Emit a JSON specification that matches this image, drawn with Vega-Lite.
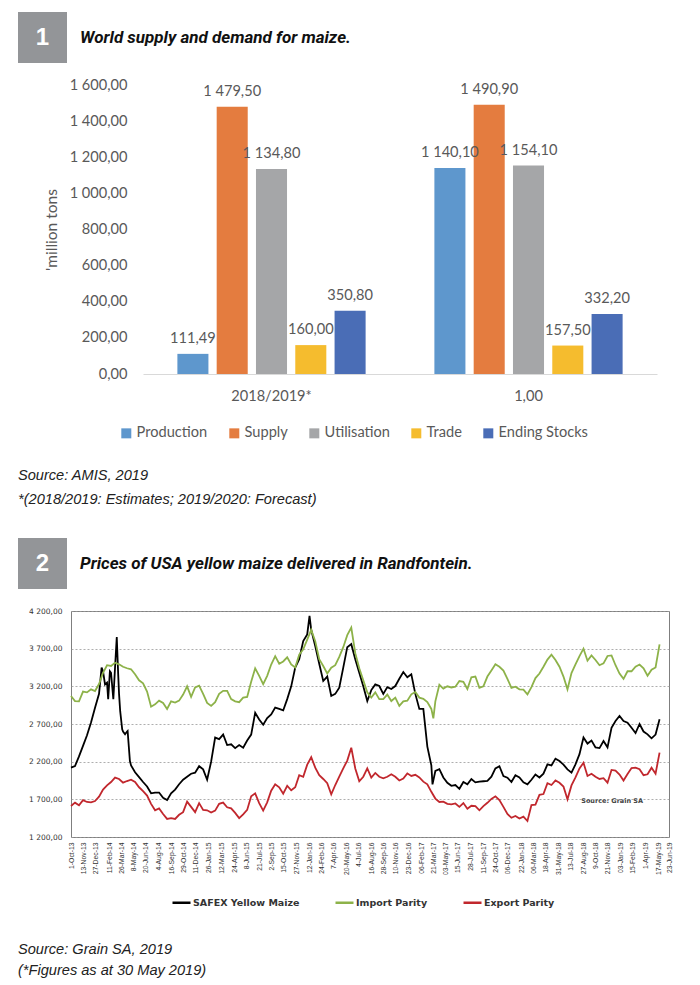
{
  "$schema": "https://vega.github.io/schema/vega-lite/v6.json",
  "background": "white",
  "padding": {"left": 18, "top": 12, "right": 0, "bottom": 0},
  "config": {
    "locale": {"number": {"decimal": ",", "thousands": " ", "grouping": [3], "currency": ["", ""]}},
    "view": {"stroke": null}
  },
  "resolve": {"scale": {"color": "independent"}, "legend": {"color": "independent"}},
  "spacing": 0,
  "vconcat": [
    {
      "width": 49, "height": 51,
      "view": {"fill": "#939598", "stroke": null},
      "title": {"text": "World supply and demand for maize.", "orient": "top", "anchor": "start", "frame": "group", "baseline": "middle", "offset": 0, "dx": 62, "dy": 42.5, "font": "Roboto", "fontSize": 17, "fontStyle": "italic", "fontWeight": "bold", "color": "#111111"},
      "data": {"values": [{"n": "1"}]},
      "mark": {"type": "text", "color": "white", "font": "Liberation Sans", "fontWeight": "bold", "fontSize": 24},
      "encoding": {"text": {"field": "n"}}
    },
    {"width": 10, "height": 14, "view": {"fill": "white", "stroke": null}, "data": {"values": []}, "mark": {"type": "point", "opacity": 0}},
    {
      "spacing": 0,
      "hconcat": [
        {"width": 25.5, "height": 1, "view": {"fill": "white", "stroke": null}, "data": {"values": []}, "mark": {"type": "point", "opacity": 0}},
        {
          "width": 514, "height": 289,
          "data": {"values": [
            {"season": "2018/2019*", "category": "Production", "million_tons": 111.49},
            {"season": "2018/2019*", "category": "Supply", "million_tons": 1479.50},
            {"season": "2018/2019*", "category": "Utilisation", "million_tons": 1134.80},
            {"season": "2018/2019*", "category": "Trade", "million_tons": 160.00},
            {"season": "2018/2019*", "category": "Ending Stocks", "million_tons": 350.80},
            {"season": "1,00", "category": "Production", "million_tons": 1140.10},
            {"season": "1,00", "category": "Supply", "million_tons": 1490.90},
            {"season": "1,00", "category": "Utilisation", "million_tons": 1154.10},
            {"season": "1,00", "category": "Trade", "million_tons": 157.50},
            {"season": "1,00", "category": "Ending Stocks", "million_tons": 332.20}
          ]},
          "encoding": {
            "x": {"field": "season", "type": "nominal", "sort": ["2018/2019*", "1,00"],
              "scale": {"paddingInner": 0, "paddingOuter": 0},
              "axis": {"title": null, "labelAngle": 0, "domainColor": "#d9d9d9", "domainWidth": 1, "ticks": false, "labelPadding": 14, "labelFont": "Lato", "labelFontSize": 14.6, "labelColor": "#595959"}},
            "xOffset": {"field": "category", "type": "nominal", "sort": ["Production", "Supply", "Utilisation", "Trade", "Ending Stocks"],
              "scale": {"paddingInner": 0.21, "paddingOuter": 0.875}},
            "y": {"field": "million_tons", "type": "quantitative",
              "scale": {"domain": [0, 1600], "nice": false},
              "axis": {"values": [0, 200, 400, 600, 800, 1000, 1200, 1400, 1600], "tickCount": 20, "format": ",.2f", "title": "'million tons", "grid": false, "domain": false, "ticks": false, "labelPadding": 16, "labelFont": "Lato", "labelFontSize": 14.6, "labelColor": "#595959", "titleFont": "Lato", "titleFontSize": 15.5, "titleFontWeight": "normal", "titleColor": "#595959", "titlePadding": 10}}
          },
          "layer": [
            {
              "mark": {"type": "bar"},
              "encoding": {
                "color": {"field": "category", "type": "nominal",
                  "scale": {"domain": ["Production", "Supply", "Utilisation", "Trade", "Ending Stocks"], "range": ["#5e97cd", "#e47c3f", "#a5a6a8", "#f5bc2e", "#4a6db6"]},
                  "legend": {"orient": "none", "legendX": 101, "legendY": 341, "direction": "horizontal", "title": null, "symbolType": "square", "symbolSize": 100, "symbolStrokeWidth": 0, "symbolOpacity": 1, "labelFont": "Lato", "labelFontSize": 14.6, "labelColor": "#595959", "columnPadding": 19, "labelOffset": 3}}
              }
            },
            {
              "mark": {"type": "text", "baseline": "alphabetic", "dy": -11, "font": "Lato", "fontSize": 14.6, "color": "#595959"},
              "encoding": {"text": {"field": "million_tons", "type": "quantitative", "format": ",.2f"}}
            }
          ]
        }
      ]
    },
    {"width": 10, "height": 27, "view": {"fill": "white", "stroke": null}, "data": {"values": []}, "mark": {"type": "point", "opacity": 0}},
    {
      "width": 400, "height": 1,
      "view": {"fill": "white", "stroke": null},
      "data": {"values": []}, "mark": {"type": "point", "opacity": 0},
      "title": {"text": ["Source: AMIS, 2019", "*(2018/2019: Estimates; 2019/2020: Forecast)"], "orient": "bottom", "anchor": "start", "frame": "group", "baseline": "top", "offset": 0, "lineHeight": 24, "font": "Liberation Sans", "fontSize": 14.6, "fontStyle": "italic", "fontWeight": "normal", "color": "#222222"}
    },
    {"width": 10, "height": 31, "view": {"fill": "white", "stroke": null}, "data": {"values": []}, "mark": {"type": "point", "opacity": 0}},
    {
      "width": 49, "height": 51,
      "view": {"fill": "#939598", "stroke": null},
      "title": {"text": "Prices of USA yellow maize delivered in Randfontein.", "orient": "top", "anchor": "start", "frame": "group", "baseline": "middle", "offset": 0, "dx": 62, "dy": 42.5, "font": "Roboto", "fontSize": 17, "fontStyle": "italic", "fontWeight": "bold", "color": "#111111"},
      "data": {"values": [{"n": "2"}]},
      "mark": {"type": "text", "color": "white", "font": "Liberation Sans", "fontWeight": "bold", "fontSize": 24},
      "encoding": {"text": {"field": "n"}}
    },
    {"width": 10, "height": 17, "view": {"fill": "white", "stroke": null}, "data": {"values": []}, "mark": {"type": "point", "opacity": 0}},
    {
      "spacing": 0,
      "hconcat": [
        {"width": 9.6, "height": 1, "view": {"fill": "white", "stroke": null}, "data": {"values": []}, "mark": {"type": "point", "opacity": 0}},
        {
          "width": 598, "height": 226,
          "view": {"stroke": "#7f7f7f", "strokeWidth": 1},
          "layer": [
            {
              "data": {"values": [
{"date":"2013-10-01","SAFEX Yellow Maize":2120,"Import Parity":3072,"Export Parity":1611},
{"date":"2013-10-15","SAFEX Yellow Maize":2142,"Import Parity":3005,"Export Parity":1656},
{"date":"2013-10-29","SAFEX Yellow Maize":2270,"Import Parity":3000,"Export Parity":1620},
{"date":"2013-11-12","SAFEX Yellow Maize":2410,"Import Parity":3130,"Export Parity":1690},
{"date":"2013-11-26","SAFEX Yellow Maize":2550,"Import Parity":3120,"Export Parity":1665},
{"date":"2013-12-10","SAFEX Yellow Maize":2720,"Import Parity":3160,"Export Parity":1660},
{"date":"2013-12-24","SAFEX Yellow Maize":2917,"Import Parity":3138,"Export Parity":1678},
{"date":"2014-01-07","SAFEX Yellow Maize":3100,"Import Parity":3230,"Export Parity":1735},
{"date":"2014-01-21","SAFEX Yellow Maize":3400,"Import Parity":3380,"Export Parity":1830},
{"date":"2014-02-04","SAFEX Yellow Maize":3250,"Import Parity":3480,"Export Parity":1885},
{"date":"2014-02-18","SAFEX Yellow Maize":3380,"Import Parity":3470,"Export Parity":1930},
{"date":"2014-03-04","SAFEX Yellow Maize":3450,"Import Parity":3514,"Export Parity":1988},
{"date":"2014-03-18","SAFEX Yellow Maize":3100,"Import Parity":3492,"Export Parity":1970},
{"date":"2014-04-01","SAFEX Yellow Maize":2600,"Import Parity":3460,"Export Parity":1921},
{"date":"2014-04-15","SAFEX Yellow Maize":2600,"Import Parity":3440,"Export Parity":1943},
{"date":"2014-04-29","SAFEX Yellow Maize":2150,"Import Parity":3426,"Export Parity":1960},
{"date":"2014-05-13","SAFEX Yellow Maize":2060,"Import Parity":3360,"Export Parity":1930},
{"date":"2014-05-27","SAFEX Yellow Maize":1995,"Import Parity":3280,"Export Parity":1860},
{"date":"2014-06-10","SAFEX Yellow Maize":1930,"Import Parity":3240,"Export Parity":1810},
{"date":"2014-06-24","SAFEX Yellow Maize":1870,"Import Parity":3130,"Export Parity":1750},
{"date":"2014-07-08","SAFEX Yellow Maize":1780,"Import Parity":2930,"Export Parity":1640},
{"date":"2014-07-22","SAFEX Yellow Maize":1790,"Import Parity":2961,"Export Parity":1555},
{"date":"2014-08-05","SAFEX Yellow Maize":1790,"Import Parity":3010,"Export Parity":1580},
{"date":"2014-08-19","SAFEX Yellow Maize":1720,"Import Parity":2980,"Export Parity":1505},
{"date":"2014-09-02","SAFEX Yellow Maize":1690,"Import Parity":2900,"Export Parity":1440},
{"date":"2014-09-16","SAFEX Yellow Maize":1780,"Import Parity":3000,"Export Parity":1450},
{"date":"2014-09-30","SAFEX Yellow Maize":1830,"Import Parity":2985,"Export Parity":1440},
{"date":"2014-10-14","SAFEX Yellow Maize":1900,"Import Parity":3010,"Export Parity":1495},
{"date":"2014-10-28","SAFEX Yellow Maize":1960,"Import Parity":3090,"Export Parity":1530},
{"date":"2014-11-11","SAFEX Yellow Maize":2000,"Import Parity":3200,"Export Parity":1670},
{"date":"2014-11-25","SAFEX Yellow Maize":2040,"Import Parity":3060,"Export Parity":1600},
{"date":"2014-12-09","SAFEX Yellow Maize":2054,"Import Parity":3185,"Export Parity":1530},
{"date":"2014-12-23","SAFEX Yellow Maize":2140,"Import Parity":3210,"Export Parity":1650},
{"date":"2015-01-06","SAFEX Yellow Maize":2098,"Import Parity":3100,"Export Parity":1560},
{"date":"2015-01-20","SAFEX Yellow Maize":1960,"Import Parity":2980,"Export Parity":1555},
{"date":"2015-02-03","SAFEX Yellow Maize":2200,"Import Parity":2940,"Export Parity":1525},
{"date":"2015-02-17","SAFEX Yellow Maize":2520,"Import Parity":2990,"Export Parity":1550},
{"date":"2015-03-03","SAFEX Yellow Maize":2500,"Import Parity":3100,"Export Parity":1640},
{"date":"2015-03-17","SAFEX Yellow Maize":2560,"Import Parity":3140,"Export Parity":1656},
{"date":"2015-03-31","SAFEX Yellow Maize":2420,"Import Parity":3140,"Export Parity":1595},
{"date":"2015-04-14","SAFEX Yellow Maize":2430,"Import Parity":3030,"Export Parity":1580},
{"date":"2015-04-28","SAFEX Yellow Maize":2380,"Import Parity":3000,"Export Parity":1520},
{"date":"2015-05-12","SAFEX Yellow Maize":2420,"Import Parity":2990,"Export Parity":1450},
{"date":"2015-05-26","SAFEX Yellow Maize":2386,"Import Parity":3050,"Export Parity":1500},
{"date":"2015-06-09","SAFEX Yellow Maize":2480,"Import Parity":3060,"Export Parity":1560},
{"date":"2015-06-23","SAFEX Yellow Maize":2560,"Import Parity":3260,"Export Parity":1740},
{"date":"2015-07-07","SAFEX Yellow Maize":2850,"Import Parity":3440,"Export Parity":1780},
{"date":"2015-07-21","SAFEX Yellow Maize":2760,"Import Parity":3340,"Export Parity":1650},
{"date":"2015-08-04","SAFEX Yellow Maize":2690,"Import Parity":3230,"Export Parity":1550},
{"date":"2015-08-18","SAFEX Yellow Maize":2780,"Import Parity":3340,"Export Parity":1660},
{"date":"2015-09-01","SAFEX Yellow Maize":2828,"Import Parity":3490,"Export Parity":1815},
{"date":"2015-09-15","SAFEX Yellow Maize":2917,"Import Parity":3600,"Export Parity":1900},
{"date":"2015-09-29","SAFEX Yellow Maize":2900,"Import Parity":3500,"Export Parity":1860},
{"date":"2015-10-13","SAFEX Yellow Maize":2880,"Import Parity":3530,"Export Parity":1775},
{"date":"2015-10-27","SAFEX Yellow Maize":3030,"Import Parity":3585,"Export Parity":1880},
{"date":"2015-11-10","SAFEX Yellow Maize":3200,"Import Parity":3492,"Export Parity":1820},
{"date":"2015-11-24","SAFEX Yellow Maize":3450,"Import Parity":3450,"Export Parity":1860},
{"date":"2015-12-08","SAFEX Yellow Maize":3560,"Import Parity":3620,"Export Parity":2020},
{"date":"2015-12-22","SAFEX Yellow Maize":3800,"Import Parity":3690,"Export Parity":2000},
{"date":"2016-01-05","SAFEX Yellow Maize":3890,"Import Parity":3820,"Export Parity":2160},
{"date":"2016-01-19","SAFEX Yellow Maize":3950,"Import Parity":3950,"Export Parity":2260},
{"date":"2016-02-02","SAFEX Yellow Maize":3735,"Import Parity":3800,"Export Parity":2120},
{"date":"2016-02-16","SAFEX Yellow Maize":3500,"Import Parity":3560,"Export Parity":2020},
{"date":"2016-03-01","SAFEX Yellow Maize":3271,"Import Parity":3470,"Export Parity":1970},
{"date":"2016-03-15","SAFEX Yellow Maize":3330,"Import Parity":3370,"Export Parity":1915},
{"date":"2016-03-29","SAFEX Yellow Maize":3072,"Import Parity":3448,"Export Parity":1766},
{"date":"2016-04-12","SAFEX Yellow Maize":3100,"Import Parity":3480,"Export Parity":1890},
{"date":"2016-04-26","SAFEX Yellow Maize":3182,"Import Parity":3590,"Export Parity":2000},
{"date":"2016-05-10","SAFEX Yellow Maize":3448,"Import Parity":3720,"Export Parity":2110},
{"date":"2016-05-24","SAFEX Yellow Maize":3720,"Import Parity":3880,"Export Parity":2215},
{"date":"2016-06-07","SAFEX Yellow Maize":3760,"Import Parity":3979,"Export Parity":2386},
{"date":"2016-06-21","SAFEX Yellow Maize":3560,"Import Parity":3640,"Export Parity":2110},
{"date":"2016-07-05","SAFEX Yellow Maize":3382,"Import Parity":3440,"Export Parity":1940},
{"date":"2016-07-19","SAFEX Yellow Maize":3200,"Import Parity":3280,"Export Parity":2000},
{"date":"2016-08-02","SAFEX Yellow Maize":3005,"Import Parity":3120,"Export Parity":2110},
{"date":"2016-08-16","SAFEX Yellow Maize":3150,"Import Parity":3050,"Export Parity":1988},
{"date":"2016-08-30","SAFEX Yellow Maize":3226,"Import Parity":3120,"Export Parity":2050},
{"date":"2016-09-13","SAFEX Yellow Maize":3204,"Import Parity":3030,"Export Parity":2000},
{"date":"2016-09-27","SAFEX Yellow Maize":3100,"Import Parity":3030,"Export Parity":1980},
{"date":"2016-10-11","SAFEX Yellow Maize":3190,"Import Parity":3090,"Export Parity":2000},
{"date":"2016-10-25","SAFEX Yellow Maize":3165,"Import Parity":3005,"Export Parity":2032},
{"date":"2016-11-08","SAFEX Yellow Maize":3204,"Import Parity":3050,"Export Parity":2000},
{"date":"2016-11-22","SAFEX Yellow Maize":3300,"Import Parity":2940,"Export Parity":1950},
{"date":"2016-12-06","SAFEX Yellow Maize":3390,"Import Parity":3000,"Export Parity":1975},
{"date":"2016-12-20","SAFEX Yellow Maize":3320,"Import Parity":3010,"Export Parity":2045},
{"date":"2017-01-03","SAFEX Yellow Maize":3360,"Import Parity":3094,"Export Parity":2010},
{"date":"2017-01-17","SAFEX Yellow Maize":3100,"Import Parity":3125,"Export Parity":2025},
{"date":"2017-01-31","SAFEX Yellow Maize":2900,"Import Parity":3050,"Export Parity":1990},
{"date":"2017-02-14","SAFEX Yellow Maize":2900,"Import Parity":3035,"Export Parity":1935},
{"date":"2017-02-28","SAFEX Yellow Maize":2400,"Import Parity":2990,"Export Parity":1900},
{"date":"2017-03-14","SAFEX Yellow Maize":2150,"Import Parity":2900,"Export Parity":1800},
{"date":"2017-03-28","SAFEX Yellow Maize":2076,"Import Parity":3000,"Export Parity":1710},
{"date":"2017-04-11","SAFEX Yellow Maize":2100,"Import Parity":3220,"Export Parity":1665},
{"date":"2017-04-25","SAFEX Yellow Maize":1990,"Import Parity":3170,"Export Parity":1670},
{"date":"2017-05-09","SAFEX Yellow Maize":1920,"Import Parity":3200,"Export Parity":1640},
{"date":"2017-05-23","SAFEX Yellow Maize":1880,"Import Parity":3185,"Export Parity":1633},
{"date":"2017-06-06","SAFEX Yellow Maize":1890,"Import Parity":3195,"Export Parity":1645},
{"date":"2017-06-20","SAFEX Yellow Maize":1840,"Import Parity":3270,"Export Parity":1600},
{"date":"2017-07-04","SAFEX Yellow Maize":1930,"Import Parity":3260,"Export Parity":1650},
{"date":"2017-07-18","SAFEX Yellow Maize":1899,"Import Parity":3165,"Export Parity":1575},
{"date":"2017-08-01","SAFEX Yellow Maize":1970,"Import Parity":3320,"Export Parity":1615},
{"date":"2017-08-15","SAFEX Yellow Maize":1925,"Import Parity":3330,"Export Parity":1610},
{"date":"2017-08-29","SAFEX Yellow Maize":1935,"Import Parity":3180,"Export Parity":1555},
{"date":"2017-09-12","SAFEX Yellow Maize":1940,"Import Parity":3200,"Export Parity":1610},
{"date":"2017-09-26","SAFEX Yellow Maize":1945,"Import Parity":3330,"Export Parity":1654},
{"date":"2017-10-10","SAFEX Yellow Maize":2000,"Import Parity":3410,"Export Parity":1705},
{"date":"2017-10-24","SAFEX Yellow Maize":2110,"Import Parity":3492,"Export Parity":1740},
{"date":"2017-11-07","SAFEX Yellow Maize":2140,"Import Parity":3460,"Export Parity":1690},
{"date":"2017-11-21","SAFEX Yellow Maize":2010,"Import Parity":3410,"Export Parity":1600},
{"date":"2017-12-05","SAFEX Yellow Maize":1988,"Import Parity":3300,"Export Parity":1505},
{"date":"2017-12-19","SAFEX Yellow Maize":1930,"Import Parity":3180,"Export Parity":1455},
{"date":"2018-01-02","SAFEX Yellow Maize":2020,"Import Parity":3195,"Export Parity":1480},
{"date":"2018-01-16","SAFEX Yellow Maize":1990,"Import Parity":3160,"Export Parity":1445},
{"date":"2018-01-30","SAFEX Yellow Maize":1925,"Import Parity":3155,"Export Parity":1470},
{"date":"2018-02-13","SAFEX Yellow Maize":1899,"Import Parity":3094,"Export Parity":1412},
{"date":"2018-02-27","SAFEX Yellow Maize":1960,"Import Parity":3190,"Export Parity":1625},
{"date":"2018-03-13","SAFEX Yellow Maize":2030,"Import Parity":3310,"Export Parity":1630},
{"date":"2018-03-27","SAFEX Yellow Maize":1990,"Import Parity":3370,"Export Parity":1760},
{"date":"2018-04-10","SAFEX Yellow Maize":2040,"Import Parity":3460,"Export Parity":1770},
{"date":"2018-04-24","SAFEX Yellow Maize":2165,"Import Parity":3555,"Export Parity":1915},
{"date":"2018-05-08","SAFEX Yellow Maize":2150,"Import Parity":3620,"Export Parity":1890},
{"date":"2018-05-22","SAFEX Yellow Maize":2240,"Import Parity":3550,"Export Parity":1950},
{"date":"2018-06-05","SAFEX Yellow Maize":2209,"Import Parity":3460,"Export Parity":1920},
{"date":"2018-06-19","SAFEX Yellow Maize":2160,"Import Parity":3330,"Export Parity":1870},
{"date":"2018-07-03","SAFEX Yellow Maize":2098,"Import Parity":3160,"Export Parity":1700},
{"date":"2018-07-17","SAFEX Yellow Maize":2054,"Import Parity":3375,"Export Parity":1885},
{"date":"2018-07-31","SAFEX Yellow Maize":2165,"Import Parity":3490,"Export Parity":1990},
{"date":"2018-08-14","SAFEX Yellow Maize":2300,"Import Parity":3600,"Export Parity":2110},
{"date":"2018-08-28","SAFEX Yellow Maize":2520,"Import Parity":3700,"Export Parity":2185},
{"date":"2018-09-11","SAFEX Yellow Maize":2440,"Import Parity":3540,"Export Parity":2010},
{"date":"2018-09-25","SAFEX Yellow Maize":2480,"Import Parity":3610,"Export Parity":2040},
{"date":"2018-10-09","SAFEX Yellow Maize":2390,"Import Parity":3550,"Export Parity":2000},
{"date":"2018-10-23","SAFEX Yellow Maize":2380,"Import Parity":3480,"Export Parity":1970},
{"date":"2018-11-06","SAFEX Yellow Maize":2474,"Import Parity":3505,"Export Parity":1980},
{"date":"2018-11-20","SAFEX Yellow Maize":2390,"Import Parity":3603,"Export Parity":1921},
{"date":"2018-12-04","SAFEX Yellow Maize":2650,"Import Parity":3610,"Export Parity":2090},
{"date":"2018-12-18","SAFEX Yellow Maize":2740,"Import Parity":3480,"Export Parity":2080},
{"date":"2019-01-01","SAFEX Yellow Maize":2806,"Import Parity":3370,"Export Parity":2030},
{"date":"2019-01-15","SAFEX Yellow Maize":2740,"Import Parity":3300,"Export Parity":1950},
{"date":"2019-01-29","SAFEX Yellow Maize":2717,"Import Parity":3400,"Export Parity":2035},
{"date":"2019-02-12","SAFEX Yellow Maize":2651,"Import Parity":3400,"Export Parity":2115},
{"date":"2019-02-26","SAFEX Yellow Maize":2580,"Import Parity":3460,"Export Parity":2120},
{"date":"2019-03-12","SAFEX Yellow Maize":2700,"Import Parity":3490,"Export Parity":2100},
{"date":"2019-03-26","SAFEX Yellow Maize":2600,"Import Parity":3440,"Export Parity":2020},
{"date":"2019-04-09","SAFEX Yellow Maize":2563,"Import Parity":3340,"Export Parity":2032},
{"date":"2019-04-23","SAFEX Yellow Maize":2510,"Import Parity":3420,"Export Parity":2120},
{"date":"2019-05-07","SAFEX Yellow Maize":2560,"Import Parity":3450,"Export Parity":2040},
{"date":"2019-05-21","SAFEX Yellow Maize":2762,"Import Parity":3758,"Export Parity":2320},
{"date":"2014-01-16","SAFEX Yellow Maize":3448},
{"date":"2014-01-28","SAFEX Yellow Maize":3226},
{"date":"2014-02-08","SAFEX Yellow Maize":3030},
{"date":"2014-02-14","SAFEX Yellow Maize":3400},
{"date":"2014-02-26","SAFEX Yellow Maize":3030},
{"date":"2014-03-10","SAFEX Yellow Maize":3855},
{"date":"2014-03-15","SAFEX Yellow Maize":3360},
{"date":"2014-03-22","SAFEX Yellow Maize":2870},
{"date":"2014-03-29","SAFEX Yellow Maize":2630},
{"date":"2014-04-08","SAFEX Yellow Maize":2563},
{"date":"2014-04-17","SAFEX Yellow Maize":2607},
{"date":"2014-04-25","SAFEX Yellow Maize":2209},
{"date":"2016-01-13","SAFEX Yellow Maize":4134},
{"date":"2017-03-18","SAFEX Yellow Maize":1899},
{"date":"2017-03-21","Import Parity":2775}
              ]},
              "transform": [
                {"fold": ["SAFEX Yellow Maize", "Import Parity", "Export Parity"], "as": ["series", "price"]},
                {"filter": "isValid(datum.price)"}
              ],
              "mark": {"type": "line", "strokeWidth": 1.8},
              "encoding": {
                "x": {"field": "date", "type": "temporal",
                  "scale": {"type": "utc", "domain": [{"year": 2013, "month": 10, "date": 1, "utc": true}, {"year": 2019, "month": 6, "date": 23, "utc": true}]},
                  "axis": {"title": null, "grid": false, "domain": false, "ticks": false, "tickCount": 100, "labelAngle": 270, "labelPadding": 5, "labelOverlap": false, "labelFlush": false, "labelFont": "Liberation Sans", "labelFontSize": 6.8, "labelColor": "#333333",
                    "labelExpr": "indexof(['06-Feb-17','03-May-17','06-Dec-17','06-Mar-18','03-Jan-19'], utcFormat(datum.value, '%d-%b-%y')) >= 0 ? utcFormat(datum.value, '%d-%b-%y') : utcFormat(datum.value, '%-d-%b-%y')",
                    "values": [
                      {"year": 2013, "month": 10, "date": 1, "utc": true},
                      {"year": 2013, "month": 11, "date": 13, "utc": true},
                      {"year": 2013, "month": 12, "date": 27, "utc": true},
                      {"year": 2014, "month": 2, "date": 11, "utc": true},
                      {"year": 2014, "month": 3, "date": 26, "utc": true},
                      {"year": 2014, "month": 5, "date": 8, "utc": true},
                      {"year": 2014, "month": 6, "date": 20, "utc": true},
                      {"year": 2014, "month": 8, "date": 4, "utc": true},
                      {"year": 2014, "month": 9, "date": 16, "utc": true},
                      {"year": 2014, "month": 10, "date": 29, "utc": true},
                      {"year": 2014, "month": 12, "date": 11, "utc": true},
                      {"year": 2015, "month": 1, "date": 26, "utc": true},
                      {"year": 2015, "month": 3, "date": 12, "utc": true},
                      {"year": 2015, "month": 4, "date": 24, "utc": true},
                      {"year": 2015, "month": 6, "date": 8, "utc": true},
                      {"year": 2015, "month": 7, "date": 21, "utc": true},
                      {"year": 2015, "month": 9, "date": 2, "utc": true},
                      {"year": 2015, "month": 10, "date": 15, "utc": true},
                      {"year": 2015, "month": 11, "date": 27, "utc": true},
                      {"year": 2016, "month": 1, "date": 12, "utc": true},
                      {"year": 2016, "month": 2, "date": 24, "utc": true},
                      {"year": 2016, "month": 4, "date": 7, "utc": true},
                      {"year": 2016, "month": 5, "date": 20, "utc": true},
                      {"year": 2016, "month": 7, "date": 4, "utc": true},
                      {"year": 2016, "month": 8, "date": 16, "utc": true},
                      {"year": 2016, "month": 9, "date": 28, "utc": true},
                      {"year": 2016, "month": 11, "date": 10, "utc": true},
                      {"year": 2016, "month": 12, "date": 23, "utc": true},
                      {"year": 2017, "month": 2, "date": 6, "utc": true},
                      {"year": 2017, "month": 3, "date": 21, "utc": true},
                      {"year": 2017, "month": 5, "date": 3, "utc": true},
                      {"year": 2017, "month": 6, "date": 15, "utc": true},
                      {"year": 2017, "month": 7, "date": 28, "utc": true},
                      {"year": 2017, "month": 9, "date": 11, "utc": true},
                      {"year": 2017, "month": 10, "date": 24, "utc": true},
                      {"year": 2017, "month": 12, "date": 6, "utc": true},
                      {"year": 2018, "month": 1, "date": 22, "utc": true},
                      {"year": 2018, "month": 3, "date": 6, "utc": true},
                      {"year": 2018, "month": 4, "date": 18, "utc": true},
                      {"year": 2018, "month": 5, "date": 31, "utc": true},
                      {"year": 2018, "month": 7, "date": 13, "utc": true},
                      {"year": 2018, "month": 8, "date": 27, "utc": true},
                      {"year": 2018, "month": 10, "date": 9, "utc": true},
                      {"year": 2018, "month": 11, "date": 21, "utc": true},
                      {"year": 2019, "month": 1, "date": 3, "utc": true},
                      {"year": 2019, "month": 2, "date": 15, "utc": true},
                      {"year": 2019, "month": 4, "date": 1, "utc": true},
                      {"year": 2019, "month": 5, "date": 17, "utc": true},
                      {"year": 2019, "month": 6, "date": 23, "utc": true}
                    ]}},
                "y": {"field": "price", "type": "quantitative",
                  "scale": {"domain": [1200, 4200], "nice": false, "zero": false},
                  "axis": {"title": null, "values": [1200, 1700, 2200, 2700, 3200, 3700, 4200], "tickCount": 20, "format": ",.2f", "grid": true, "gridDash": [2, 2], "gridColor": "#999999", "gridWidth": 0.8, "domain": false, "ticks": false, "labelPadding": 9, "labelFont": "DejaVu Sans", "labelFontSize": 7.5, "labelColor": "#333333"}},
                "color": {"field": "series", "type": "nominal",
                  "scale": {"domain": ["SAFEX Yellow Maize", "Import Parity", "Export Parity"], "range": ["#000000", "#8db249", "#c1272d"]},
                  "legend": {"orient": "none", "legendX": 153, "legendY": 281, "direction": "horizontal", "title": null, "symbolType": "stroke", "symbolSize": 324, "symbolStrokeWidth": 2.5, "labelFont": "DejaVu Sans", "labelFontWeight": "bold", "labelFontSize": 9.5, "labelColor": "#333333", "labelOffset": 1, "columnPadding": 30}}
              }
            },
            {
              "data": {"values": [{}]},
              "mark": {"type": "text", "text": "Source: Grain SA", "align": "left", "baseline": "middle", "font": "DejaVu Sans", "fontWeight": "bold", "fontSize": 6.5, "color": "#444444"},
              "encoding": {
                "x": {"datum": {"year": 2018, "month": 8, "date": 20, "utc": true}, "type": "temporal"},
                "y": {"datum": 1680, "type": "quantitative"}
              }
            }
          ]
        }
      ]
    },
    {"width": 10, "height": 33, "view": {"fill": "white", "stroke": null}, "data": {"values": []}, "mark": {"type": "point", "opacity": 0}},
    {
      "width": 400, "height": 1,
      "view": {"fill": "white", "stroke": null},
      "data": {"values": []}, "mark": {"type": "point", "opacity": 0},
      "title": {"text": ["Source: Grain SA, 2019", "(*Figures as at 30 May 2019)"], "orient": "bottom", "anchor": "start", "frame": "group", "baseline": "top", "offset": 0, "lineHeight": 21, "font": "Liberation Sans", "fontSize": 14.6, "fontStyle": "italic", "fontWeight": "normal", "color": "#222222"}
    }
  ]
}
